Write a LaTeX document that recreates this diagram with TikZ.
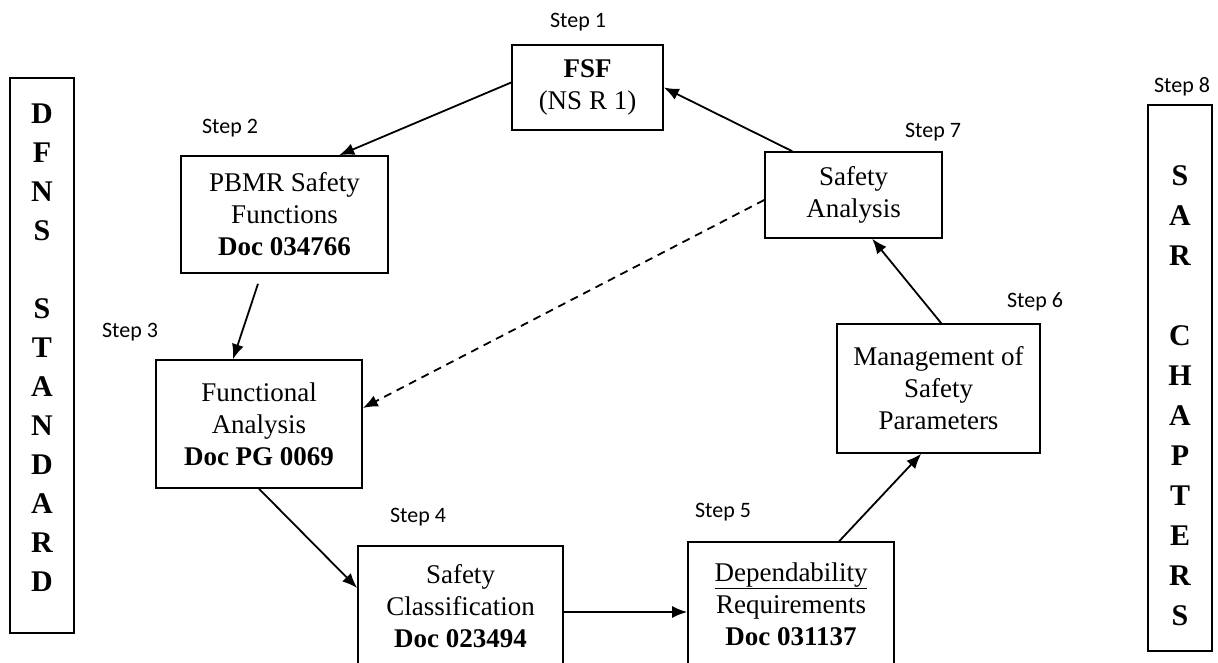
\documentclass[tikz,border=0pt]{standalone}
\usepackage{fontspec}
\setmainfont{Liberation Serif}
\newfontfamily\stepfont{Carlito}
\usetikzlibrary{arrows.meta}
\begin{document}
\begin{tikzpicture}[x=1pt,y=-1pt,
  box/.style={draw,line width=1.6pt,inner sep=0pt,align=center,
    font=\fontsize{27}{32}\selectfont},
  sidebox/.style={draw,line width=1.6pt,inner sep=0pt},
  sidetext/.style={align=center,inner sep=0pt},
  steplbl/.style={font=\stepfont\fontsize{22}{26}\selectfont,inner sep=0pt},
  arr/.style={line width=1.8pt,-{Latex[length=15pt,width=12pt]}}]
\useasboundingbox (0,0) rectangle (1218,662);
\clip (0,0) rectangle (1218,662);
% boxes
\node[box,minimum width=151pt,minimum height=85pt] (fsf) at (587.5,87.5)
  {\textbf{FSF}\\(NS R 1)};
\node[box,minimum width=207pt,minimum height=117pt] (pbmr) at (284.5,214.5)
  {PBMR Safety\\Functions\\\textbf{Doc 034766}};
\node[box,minimum width=206pt,minimum height=128pt] (func) at (259,424)
  {Functional\\Analysis\\\textbf{Doc PG 0069}};
\node[box,minimum width=205pt,minimum height=120pt] (sc) at (460.5,606)
  {Safety\\Classification\\\textbf{Doc 023494}};
\node[box,minimum width=206pt,minimum height=124pt] (dep) at (791,604)
  {\underline{Dependability}\\Requirements\\\textbf{Doc 031137}};
\node[box,minimum width=203pt,minimum height=129pt] (mgmt) at (938.5,388.5)
  {Management of\\Safety\\Parameters};
\node[box,minimum width=177pt,minimum height=86pt] (sa) at (853.5,195)
  {Safety\\Analysis};
% side boxes
\node[sidebox,minimum width=64pt,minimum height=555pt] (dfns) at (42,355.5) {};
\node[sidetext,font=\fontsize{30}{39}\selectfont\bfseries] (dfnstext) at (42,347.5)
  {D\\F\\N\\S\\\mbox{}\\S\\T\\A\\N\\D\\A\\R\\D};
\node[sidebox,minimum width=64pt,minimum height=546pt] (sar) at (1180,378) {};
\node[sidetext,font=\fontsize{30}{40}\selectfont\bfseries] (sartext) at (1180,396)
  {S\\A\\R\\\mbox{}\\C\\H\\A\\P\\T\\E\\R\\S};
% step labels
\node[steplbl] (s1) at (578,22) {Step 1};
\node[steplbl] (s2) at (230,128) {Step 2};
\node[steplbl] (s3) at (130,332) {Step 3};
\node[steplbl] (s4) at (418,517) {Step 4};
\node[steplbl] (s5) at (723,512) {Step 5};
\node[steplbl] (s6) at (1035,302) {Step 6};
\node[steplbl] (s7) at (933,132) {Step 7};
\node[steplbl] (s8) at (1182,87) {Step 8};
% connectors
\draw[arr] ([xshift=28pt]sa.north west) -- (fsf.east);
\draw[arr] ([yshift=5pt]fsf.west) -- ([xshift=159pt]pbmr.north west);
\coordinate (pbmrout) at ([xshift=-26.5pt,yshift=-10pt]pbmr.south);
\draw[arr] (pbmrout) -- ([xshift=-26pt]func.north);
\draw[arr] (func.south) -- ([yshift=18pt]sc.west);
\draw[arr] ([yshift=-6pt]sc.east) -- ([yshift=-8pt]dep.west);
\draw[arr] ([xshift=152pt]dep.north west) -- ([xshift=85pt]mgmt.south west);
\draw[arr] ([xshift=105pt]mgmt.north west) -- ([xshift=108pt]sa.south west);
\draw[arr,dash pattern=on 8pt off 6pt] ([yshift=-5pt]sa.west) -- ([yshift=16pt]func.east);
\end{tikzpicture}
\end{document}
